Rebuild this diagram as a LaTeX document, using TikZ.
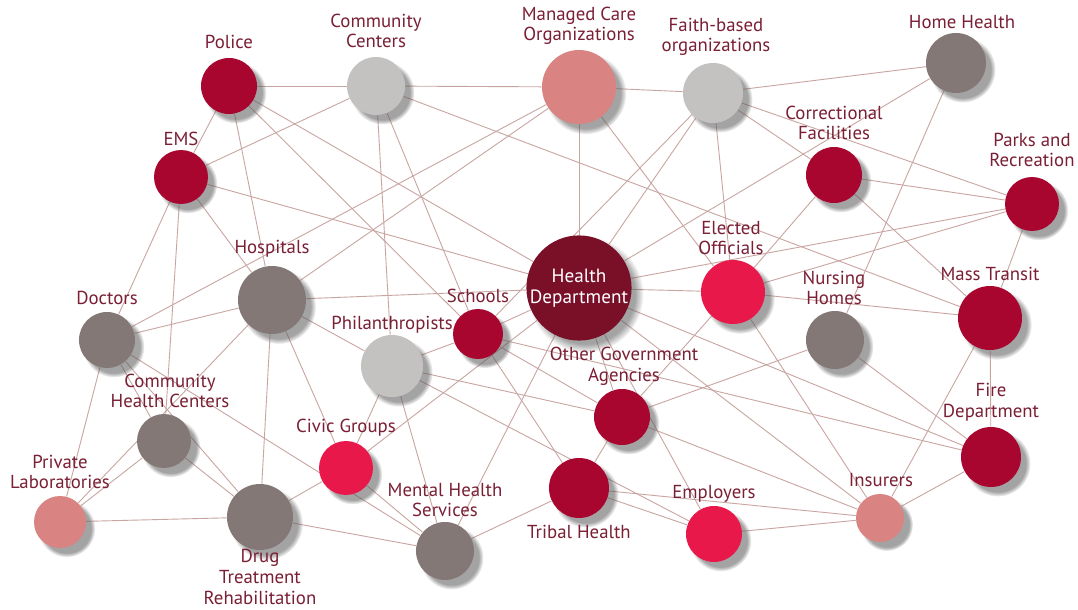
\documentclass[tikz,border=0pt]{standalone}
\usepackage{fontspec}
\setmainfont{PT Sans}
\usetikzlibrary{shadows}
\pgfdeclarelayer{background}
\pgfsetlayers{background,main}
\definecolor{Crimson}{HTML}{A8052F}
\definecolor{Scarlet}{HTML}{E8194A}
\definecolor{Maroon}{HTML}{7A0F28}
\definecolor{Rose}{HTML}{D98482}
\definecolor{Taupe}{HTML}{837875}
\definecolor{Silver}{HTML}{C4C1C1}
\definecolor{LabelRed}{HTML}{7A1F35}
\definecolor{LinkPink}{HTML}{C9A5A2}

\begin{document}
\begin{tikzpicture}[x=0.5pt,y=-0.5pt,
  hub/.style={circle,inner sep=0pt,draw=none,minimum size=#1,
    circular drop shadow={shadow xshift=3pt,shadow yshift=-3pt,shadow scale=1.1,opacity=.55,fill=black!65}},
  lbl/.style={text=LabelRed,align=center,inner sep=0pt,font=\fontsize{9.4}{10.3}\selectfont},
  link/.style={draw=LinkPink,line width=.45pt}]
\useasboundingbox (0,0) rectangle (1078,610);
% nodes
\node[hub=28pt,fill=Crimson](police) at (229,86){};
\node[hub=29pt,fill=Silver](commctr) at (376,86){};
\node[hub=37pt,fill=Rose](mco) at (579,87){};
\node[hub=30pt,fill=Silver](faith) at (713,93){};
\node[hub=30pt,fill=Taupe](homehealth) at (956,63){};
\node[hub=27pt,fill=Crimson](ems) at (181,177){};
\node[hub=28pt,fill=Crimson](correct) at (834,175){};
\node[hub=27pt,fill=Crimson](parks) at (1032,204){};
\node[hub=51pt,fill=Maroon,text=white,align=center,font=\fontsize{9.6}{10.5}\selectfont](healthdept) at (579,288){Health\\Department};
\node[hub=32pt,fill=Scarlet](elected) at (733,292){};
\node[hub=34pt,fill=Taupe](hospitals) at (272,300){};
\node[hub=28pt,fill=Taupe](doctors) at (107,340){};
\node[hub=25pt,fill=Crimson](schools) at (478,334){};
\node[hub=31pt,fill=Silver](philan) at (392,366){};
\node[hub=29pt,fill=Taupe](nursing) at (835,340){};
\node[hub=32pt,fill=Crimson](transit) at (990,318){};
\node[hub=28pt,fill=Crimson](othergov) at (622,417){};
\node[hub=27pt,fill=Taupe](chc) at (164,441){};
\node[hub=27pt,fill=Scarlet](civic) at (346,468){};
\node[hub=30pt,fill=Crimson](fire) at (991,457){};
\node[hub=26pt,fill=Rose](privlab) at (60,522){};
\node[hub=33pt,fill=Taupe](drugtx) at (260,517){};
\node[hub=29pt,fill=Taupe](mental) at (445,551){};
\node[hub=30pt,fill=Crimson](tribal) at (579,488){};
\node[hub=28pt,fill=Scarlet](employers) at (714,534){};
\node[hub=24pt,fill=Rose](insurers) at (880,518){};
%
\node[lbl](police-l) at (229,42){Police};
\node[lbl](commctr-l) at (376,31){Community\\Centers};
\node[lbl](mco-l) at (579,26){Managed Care\\Organizations};
\node[lbl](faith-l) at (716,37){Faith-based\\organizations};
\node[lbl](homehealth-l) at (962,22){Home Health};
\node[lbl](ems-l) at (181,139){EMS};
\node[lbl](correct-l) at (834,123){Correctional\\Facilities};
\node[lbl](parks-l) at (1032,150){Parks and\\Recreation};
\node[lbl](elected-l) at (731,238){Elected\\Officials};
\node[lbl](hospitals-l) at (272,249){Hospitals};
\node[lbl](doctors-l) at (107,298){Doctors};
\node[lbl](schools-l) at (478,296){Schools};
\node[lbl](philan-l) at (392,325){Philanthropists};
\node[lbl](nursing-l) at (834,288){Nursing\\Homes};
\node[lbl](transit-l) at (990,274){Mass Transit};
\node[lbl](othergov-l) at (624,366){Other Government\\Agencies};
\node[lbl](chc-l) at (170,391){Community\\Health Centers};
\node[lbl](civic-l) at (346,428){Civic Groups};
\node[lbl](fire-l) at (991,402){Fire\\Department};
\node[lbl](privlab-l) at (60,472){Private\\Laboratories};
\node[lbl](drugtx-l) at (260,577){Drug\\Treatment\\Rehabilitation};
\node[lbl](mental-l) at (445,500){Mental Health\\Services};
\node[lbl](tribal-l) at (579,532){Tribal Health};
\node[lbl](employers-l) at (714,494){Employers};
\node[lbl](insurers-l) at (881,480){Insurers};
% links
\begin{pgfonlayer}{background}
\fill[white](0,0) rectangle (1078,610);
\draw[link](police)--(commctr);
\draw[link](police)--(ems);
\draw[link](police)--(hospitals);
\draw[link](police)--(healthdept);
\draw[link](police)--(schools);
\draw[link](commctr)--(mco);
\draw[link](commctr)--(ems);
\draw[link](commctr)--(transit);
\draw[link](commctr)--(philan);
\draw[link](commctr)--(schools);
\draw[link](mco)--(faith);
\draw[link](mco)--(doctors);
\draw[link](mco)--(hospitals);
\draw[link](mco)--(healthdept);
\draw[link](mco)--(elected);
\draw[link](faith)--(homehealth);
\draw[link](faith)--(schools);
\draw[link](faith)--(healthdept);
\draw[link](faith)--(elected);
\draw[link](faith)--(correct);
\draw[link](faith)--(parks);
\draw[link](homehealth)--(healthdept);
\draw[link](homehealth)--(nursing);
\draw[link](ems)--(healthdept);
\draw[link](ems)--(doctors);
\draw[link](ems)--(chc);
\draw[link](ems)--(hospitals);
\draw[link](correct)--(parks);
\draw[link](correct)--(transit);
\draw[link](correct)--(elected);
\draw[link](parks)--(healthdept);
\draw[link](parks)--(elected);
\draw[link](parks)--(transit);
\draw[link](healthdept)--(hospitals);
\draw[link](healthdept)--(schools);
\draw[link](healthdept)--(elected);
\draw[link](healthdept)--(fire);
\draw[link](healthdept)--(insurers);
\draw[link](healthdept)--(othergov);
\draw[link](healthdept)--(employers);
\draw[link](healthdept)--(mental);
\draw[link](healthdept)--(civic);
\draw[link](elected)--(transit);
\draw[link](elected)--(othergov);
\draw[link](elected)--(insurers);
\draw[link](hospitals)--(doctors);
\draw[link](hospitals)--(philan);
\draw[link](hospitals)--(civic);
\draw[link](hospitals)--(drugtx);
\draw[link](hospitals)--(privlab);
\draw[link](doctors)--(chc);
\draw[link](doctors)--(drugtx);
\draw[link](doctors)--(privlab);
\draw[link](doctors)--(mental);
\draw[link](schools)--(philan);
\draw[link](schools)--(othergov);
\draw[link](schools)--(tribal);
\draw[link](schools)--(fire);
\draw[link](philan)--(othergov);
\draw[link](philan)--(employers);
\draw[link](philan)--(civic);
\draw[link](philan)--(mental);
\draw[link](nursing)--(othergov);
\draw[link](nursing)--(fire);
\draw[link](transit)--(fire);
\draw[link](transit)--(insurers);
\draw[link](othergov)--(insurers);
\draw[link](othergov)--(tribal);
\draw[link](chc)--(privlab);
\draw[link](chc)--(drugtx);
\draw[link](civic)--(drugtx);
\draw[link](civic)--(mental);
\draw[link](fire)--(insurers);
\draw[link](privlab)--(drugtx);
\draw[link](drugtx)--(mental);
\draw[link](mental)--(tribal);
\draw[link](tribal)--(employers);
\draw[link](tribal)--(insurers);
\draw[link](employers)--(insurers);
\end{pgfonlayer}
\end{tikzpicture}
\end{document}
